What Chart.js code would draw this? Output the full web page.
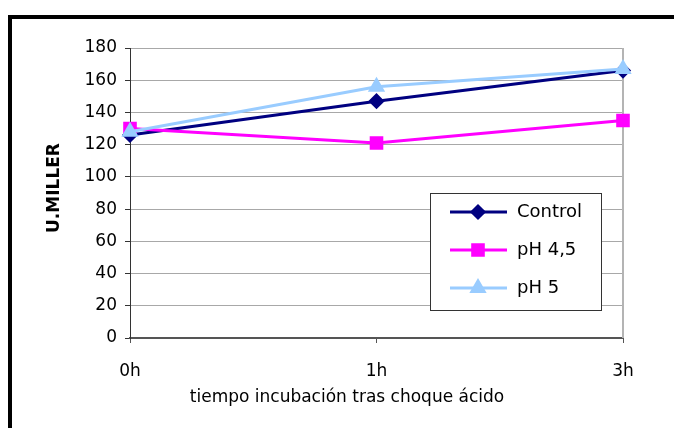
<!DOCTYPE html>
<html>
<head>
<meta charset="utf-8">
<script src="https://cdn.jsdelivr.net/npm/chart.js@4/dist/chart.umd.min.js"></script>
<style>
  html, body { margin: 0; padding: 0; background: #fff; }
  #wrap { width: 674px; height: 428px; }
</style>
</head>
<body>
<div id="wrap"><canvas id="millerChart" width="674" height="428"></canvas></div>
<script>
// Tiempos de incubación y actividad (U. Miller)
const tiempos = ['0h', '1h', '3h'];
const control = [126, 147, 166];
const ph45 = [130, 121, 135];
const ph5 = [128, 156, 167];

const FONT = '"DejaVu Sans", Verdana, sans-serif';
const tituloX = 'tiempo incubación tras choque ácido';
const tituloY = 'U.MILLER';

// Marco negro (arriba e izquierda), fondo blanco y títulos de ejes
const marco = {
    id: 'marco',
    beforeDraw(chart) {
        const c = chart.ctx;
        c.save();
        c.fillStyle = '#fff';
        c.fillRect(0, 0, chart.width, chart.height);
        c.fillStyle = '#000';
        c.fillRect(8, 15, chart.width - 8, 4);
        c.fillRect(8, 15, 4, chart.height - 15);

        c.textAlign = 'center';
        c.textBaseline = 'middle';
        c.font = '17px ' + FONT;
        c.fillText(tituloX, 347, 398);
        c.translate(55, 188);
        c.rotate(-Math.PI / 2);
        c.font = 'bold 17px ' + FONT;
        c.fillText(tituloY, 0, 0);
        c.restore();
    },
    beforeDatasetsDraw(chart) {
        const a = chart.chartArea;
        const c = chart.ctx;
        c.save();
        c.strokeStyle = '#b4b4b4';
        c.lineWidth = 2;
        c.beginPath();
        c.moveTo(a.right, a.top);
        c.lineTo(a.right, a.bottom);
        c.stroke();
        c.restore();
    }
};

// Leyenda dentro del área de trazado
const leyenda = {
    id: 'leyenda',
    afterDatasetsDraw(chart) {
        const c = chart.ctx;
        const x0 = 430, y0 = 193, w = 171, h = 117;
        c.save();
        c.fillStyle = '#fff';
        c.fillRect(x0, y0, w, h);
        c.strokeStyle = '#333';
        c.lineWidth = 1;
        c.strokeRect(x0 + 0.5, y0 + 0.5, w, h);
        const filas = [212, 250, 288];
        chart.data.datasets.forEach((ds, i) => {
            const y = filas[i];
            c.strokeStyle = ds.borderColor;
            c.lineWidth = ds.borderWidth;
            c.beginPath();
            c.moveTo(450, y);
            c.lineTo(507, y);
            c.stroke();
            c.fillStyle = ds.pointBackgroundColor;
            c.strokeStyle = ds.pointBorderColor;
            Chart.helpers.drawPoint(c, {
                pointStyle: ds.pointStyle,
                radius: ds.pointRadius,
                rotation: 0,
                borderWidth: 1
            }, 478, y);
            c.fillStyle = '#000';
            c.font = '18px ' + FONT;
            c.textBaseline = 'middle';
            c.textAlign = 'left';
            c.fillText(ds.label, 517, y);
        });
        c.restore();
    }
};

const ctx = document.getElementById('millerChart').getContext('2d');
new Chart(ctx, {
    type: 'line',
    data: {
        labels: tiempos,
        datasets: [
            {
                label: 'Control',
                data: control,
                borderColor: '#000080',
                backgroundColor: '#000080',
                pointBackgroundColor: '#000080',
                pointBorderColor: '#000080',
                pointStyle: 'rectRot',
                pointRadius: 6,
                borderWidth: 3,
                order: 3
            },
            {
                label: 'pH 4,5',
                data: ph45,
                borderColor: '#ff00ff',
                backgroundColor: '#ff00ff',
                pointBackgroundColor: '#ff00ff',
                pointBorderColor: '#ff00ff',
                pointStyle: 'rect',
                pointRadius: 7.5,
                borderWidth: 3,
                order: 2
            },
            {
                label: 'pH 5',
                data: ph5,
                borderColor: '#99ccff',
                backgroundColor: '#99ccff',
                pointBackgroundColor: '#99ccff',
                pointBorderColor: '#99ccff',
                pointStyle: 'triangle',
                pointRadius: 7,
                borderWidth: 3,
                order: 1
            }
        ]
    },
    options: {
        responsive: false,
        animation: false,
        layout: { padding: { left: 0, top: 48, right: 51, bottom: 0 } },
        plugins: {
            legend: { display: false },
            tooltip: { enabled: false }
        },
        elements: { line: { tension: 0 } },
        scales: {
            x: {
                offset: false,
                afterFit(scale) { scale.height = 90; },
                grid: {
                    drawOnChartArea: false,
                    drawTicks: true,
                    tickLength: 5,
                    color: '#555'
                },
                border: { color: '#555', width: 2 },
                ticks: {
                    color: '#000',
                    padding: 18,
                    maxRotation: 0,
                    font: { family: FONT, size: 17 }
                }
            },
            y: {
                min: 0,
                max: 180,
                afterFit(scale) { scale.width = 130; },
                grid: {
                    color: '#a8a8a8',
                    drawTicks: true,
                    tickLength: 5,
                    tickColor: '#333'
                },
                border: { color: '#333', width: 1 },
                ticks: {
                    stepSize: 20,
                    color: '#000',
                    padding: 8,
                    font: { family: FONT, size: 17 }
                }
            }
        }
    },
    plugins: [marco, leyenda]
});
</script>
</body>
</html>
